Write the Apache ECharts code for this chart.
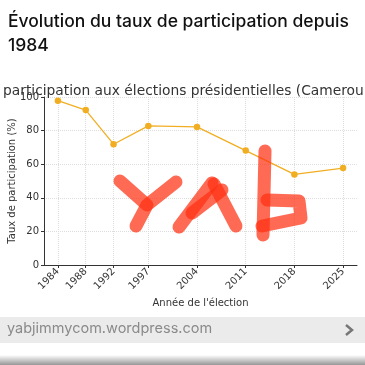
<!DOCTYPE html>
<html><head><meta charset="utf-8">
<script src="https://cdn.jsdelivr.net/npm/echarts@6/dist/echarts.min.js"></script>
<style>html,body{margin:0;padding:0;background:#fff}#c{width:365px;height:365px}</style>
</head><body><div id="c"></div>
<script>
const years = [1984, 1988, 1992, 1997, 2004, 2011, 2018, 2025];
const turnout = [97.8, 92.2, 71.9, 82.8, 82.2, 68.1, 53.9, 57.7];
const yTicks = [0, 20, 40, 60, 80, 100];
const pageTitle = ['Évolution du taux de participation depuis', '1984'];
const chartTitle = 'participation aux élections présidentielles (Cameroun)';
const yName = 'Taux de participation (%)';
const xName = "Année de l'élection";
const footerText = 'yabjimmycom.wordpress.com';

const chart = echarts.init(document.getElementById('c'), null, {renderer: 'canvas'});
const lineColor = '#f2ae22';
const wm = 'rgba(255,48,18,0.72)';
const strokes = [
  [[120,181],[147,205]],
  [[176,182],[147,205],[136,226]],
  [[212,183],[179,227]],
  [[214,184],[236,226]],
  [[192,213],[222,190]],
  [[265,151],[263,235]],
  [[267,200],[299,201],[301,218],[262,226]]
];
chart.setOption({
  animation: false,
  title: {text: chartTitle, left: -2, top: 79, textStyle: {fontFamily: 'DejaVu Sans', fontSize: 13.8, fontWeight: 'normal', color: '#333'}},
  grid: {left: 44, right: 8, top: 97, bottom: 100, outerBoundsMode: 'none', containLabel: false},
  xAxis: {
    type: 'value', min: 1982, max: 2027,
    name: xName, nameLocation: 'middle', nameGap: 33, nameMoveOverlap: false,
    nameTextStyle: {fontFamily: 'DejaVu Sans', fontSize: 10, color: '#333'},
    axisLine: {show: true, lineStyle: {color: '#333', width: 1}},
    axisTick: {show: true, customValues: years, length: 3, lineStyle: {color: '#333'}},
    axisLabel: {customValues: years, formatter: v => String(v), rotate: 45, fontFamily: 'DejaVu Sans', fontSize: 10, color: '#333', margin: 5},
    splitLine: {show: true, lineStyle: {color: '#ddd', type: 'dotted'}}
  },
  yAxis: {
    type: 'value', min: 0, max: 100, interval: 20,
    name: yName, nameLocation: 'middle', nameGap: 27, nameRotate: 90, nameMoveOverlap: false,
    nameTextStyle: {fontFamily: 'DejaVu Sans', fontSize: 10, color: '#333'},
    axisLine: {show: true, lineStyle: {color: '#333', width: 1}},
    axisTick: {show: true, length: 3, lineStyle: {color: '#333'}},
    axisLabel: {fontFamily: 'DejaVu Sans', fontSize: 10, color: '#333', margin: 5},
    splitLine: {show: true, lineStyle: {color: '#ddd', type: 'dotted'}}
  },
  series: [{
    type: 'line', data: years.map((y, i) => [y, turnout[i]]),
    lineStyle: {color: lineColor, width: 1.3},
    itemStyle: {color: lineColor}, symbol: 'circle', symbolSize: 6.5
  }],
  graphic: [
    {type: 'text', left: 8, top: 10, style: {text: pageTitle.join('\n'), fontFamily: 'Inter', fontSize: 17.5, fontWeight: 500, fill: '#111', lineHeight: 24}},
    {type: 'rect', shape: {x: 0, y: 317, width: 365, height: 26}, style: {fill: '#ebebeb'}},
    {type: 'text', left: 7, top: 321, style: {text: footerText, fontFamily: 'Inter', fontSize: 14.5, fill: '#8a8a8a'}},
    {type: 'polyline', shape: {points: [[346,325],[352,330],[346,335]]}, style: {stroke: '#777', lineWidth: 2.5, fill: null}},
    {type: 'rect', shape: {x: 0, y: 355, width: 365, height: 10}, style: {fill: new echarts.graphic.LinearGradient(0,0,0,1,[{offset:0,color:'rgba(255,255,255,1)'},{offset:1,color:'rgba(150,150,150,1)'}])}},
    ...strokes.map(p => ({type: 'polyline', z: 100, shape: {points: p}, style: {stroke: wm, lineWidth: 13, lineCap: 'round', lineJoin: 'round', fill: null}}))
  ]
});
</script></body></html>
